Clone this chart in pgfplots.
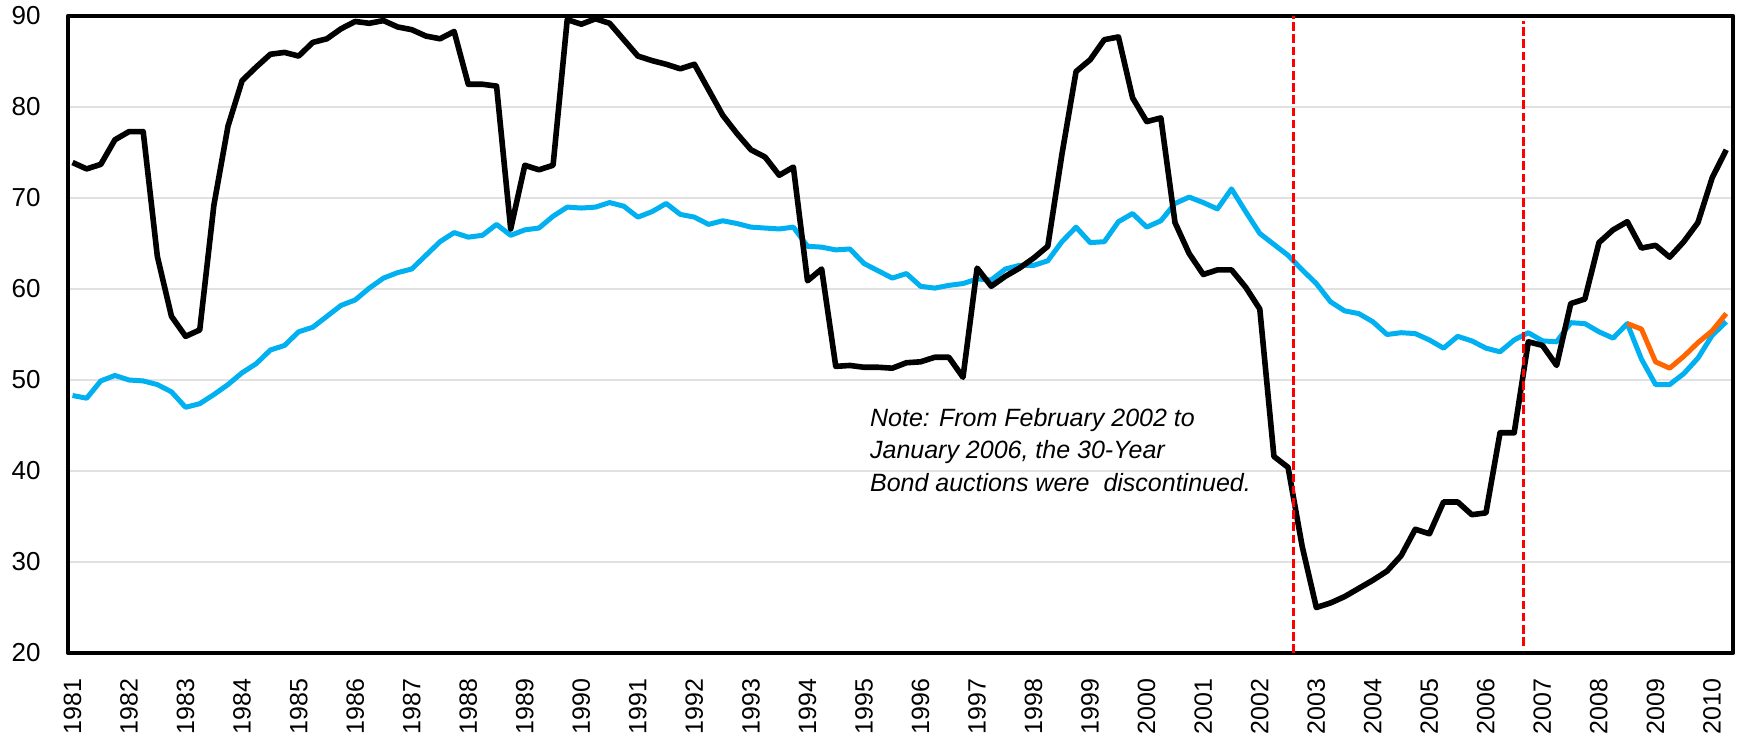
\documentclass[border=0pt]{standalone}
\usepackage{fontspec}
\setmainfont{Liberation Sans}
\usepackage{pgfplots}
\usepackage{pgfplotstable}
\pgfplotsset{compat=1.18}
\definecolor{cyanline}{RGB}{0,176,240}
\definecolor{orangeline}{RGB}{255,102,0}
\definecolor{gridgray}{RGB}{225,225,225}
\pgfplotsset{
  layers/mylayers/.define layer set={axis background,axis grid,axis ticks,pre main,main,axis lines,axis tick labels,axis descriptions,axis foreground}{},
}
\pgfplotstableread{
i blk cyn
0 73.9 48.3
1 73.2 48.0
2 73.7 49.9
3 76.4 50.5
4 77.3 50.0
5 77.3 49.9
6 63.6 49.5
7 57.0 48.7
8 54.8 47.0
9 55.5 47.4
10 69.2 48.4
11 77.9 49.5
12 82.9 50.8
13 84.4 51.8
14 85.8 53.3
15 86.0 53.8
16 85.6 55.3
17 87.1 55.8
18 87.5 57.0
19 88.6 58.2
20 89.4 58.8
21 89.2 60.1
22 89.5 61.2
23 88.8 61.8
24 88.5 62.2
25 87.8 63.7
26 87.5 65.2
27 88.3 66.2
28 82.5 65.7
29 82.5 65.9
30 82.3 67.1
31 66.6 65.9
32 73.6 66.5
33 73.1 66.7
34 73.6 68.0
35 89.6 69.0
36 89.1 68.9
37 89.7 69.0
38 89.2 69.5
39 87.4 69.1
40 85.6 67.9
41 85.1 68.5
42 84.7 69.4
43 84.2 68.2
44 84.7 67.9
45 81.9 67.1
46 79.1 67.5
47 77.1 67.2
48 75.3 66.8
49 74.5 66.7
50 72.5 66.6
51 73.4 66.8
52 60.9 64.7
53 62.2 64.6
54 51.5 64.3
55 51.6 64.4
56 51.4 62.8
57 51.4 62.0
58 51.3 61.2
59 51.9 61.7
60 52.0 60.3
61 52.5 60.1
62 52.5 60.4
63 50.3 60.6
64 62.3 61.1
65 60.3 61.0
66 61.4 62.2
67 62.3 62.6
68 63.4 62.6
69 64.7 63.1
70 74.8 65.2
71 83.9 66.8
72 85.2 65.1
73 87.4 65.2
74 87.7 67.4
75 81.0 68.3
76 78.4 66.8
77 78.8 67.5
78 67.3 69.4
79 63.9 70.1
80 61.6 69.5
81 62.1 68.8
82 62.1 71.0
83 60.2 68.5
84 57.8 66.1
85 41.6 64.9
86 40.4 63.7
87 31.7 62.1
88 25.0 60.6
89 25.5 58.6
90 26.2 57.6
91 27.1 57.3
92 28.0 56.4
93 29.0 55.0
94 30.7 55.2
95 33.6 55.1
96 33.1 54.4
97 36.6 53.5
98 36.6 54.8
99 35.2 54.3
100 35.4 53.5
101 44.2 53.1
102 44.2 54.4
103 54.2 55.2
104 53.8 54.3
105 51.6 54.2
106 58.4 56.3
107 58.9 56.2
108 65.1 55.3
109 66.5 54.6
110 67.4 56.2
111 64.5 52.3
112 64.8 49.5
113 63.5 49.5
114 65.2 50.7
115 67.3 52.4
116 72.2 54.9
117 75.3 56.4
}\maindata
\pgfplotstableread{
i org
110 56.2
111 55.6
112 52.0
113 51.3
114 52.6
115 54.1
116 55.4
117 57.3
}\orangedata
\begin{document}
\begin{tikzpicture}
\begin{axis}[
  set layers=mylayers,
  at={(0,0)}, anchor=south west,
  scale only axis,
  width=832.5pt, height=318.5pt,
  xmin=1980.92, xmax=2010.37,
  ymin=20, ymax=90,
  xtick={1981,...,2010},
  ytick={20,30,...,90},
  major tick length=0pt,
  ymajorgrids,
  grid style={gridgray, line width=0.6pt},
  axis line style={black, line width=2.3pt},
  /pgf/number format/assume math mode=true,
  /pgf/number format/1000 sep={},
  xticklabel style={rotate=90, anchor=east, inner sep=0pt, font=\fontsize{12.5}{15}\selectfont},
  yticklabel style={anchor=east, inner sep=0pt, font=\fontsize{13}{15}\selectfont},
  xticklabel shift=12.5pt,
  yticklabel shift=13.5pt,
  line join=round,
]
\addplot[cyanline, line width=2.5pt, no markers] table[x expr=1981+\thisrow{i}/4, y=cyn] {\maindata};
\addplot[orangeline, line width=2.5pt, no markers] table[x expr=1981+\thisrow{i}/4, y=org] {\orangedata};
\addplot[black, line width=2.8pt, no markers] table[x expr=1981+\thisrow{i}/4, y=blk] {\maindata};
\addplot[red, line width=1.5pt, dash pattern=on 4.3pt off 1.8pt, no markers] coordinates {(2002.60,20) (2002.60,90)};
\addplot[red, line width=1.5pt, dash pattern=on 4.3pt off 1.8pt, no markers] coordinates {(2006.66,20.8) (2006.66,89.5)};
\node[anchor=base west, inner sep=0pt, font=\fontsize{12.5}{15}\selectfont\itshape] at (axis cs:1995.10,44.87) {Note: From February 2002 to};
\node[anchor=base west, inner sep=0pt, font=\fontsize{12.5}{15}\selectfont\itshape] at (axis cs:1995.10,41.40) {January 2006, the 30-Year};
\node[anchor=base west, inner sep=0pt, font=\fontsize{12.5}{15}\selectfont\itshape] at (axis cs:1995.10,37.73) {Bond auctions were\ \ discontinued.};
\end{axis}
\pgfresetboundingbox
\path[use as bounding box] (-34pt,-41.5pt) rectangle (835pt,326.5pt);
\end{tikzpicture}
\end{document}
